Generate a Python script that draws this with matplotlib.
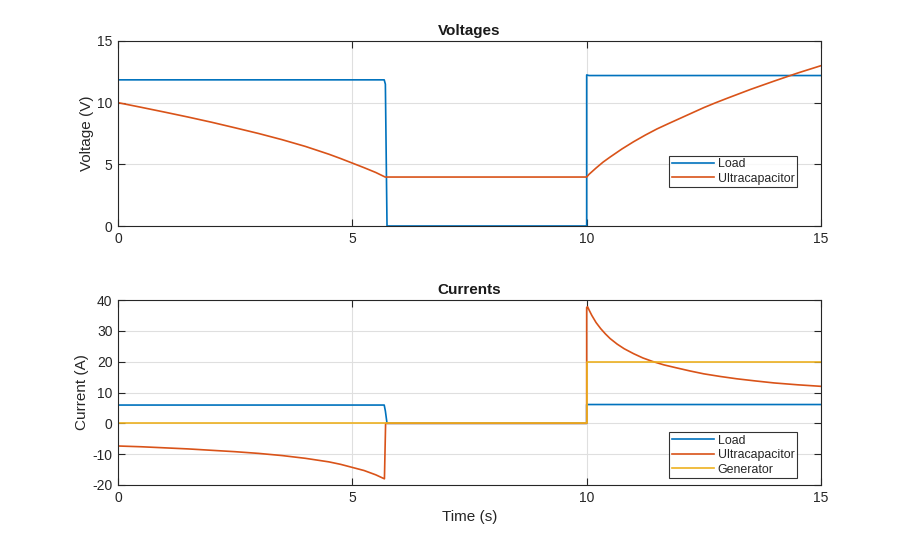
import matplotlib
matplotlib.use("Agg")
import matplotlib.pyplot as plt

plt.rcParams['font.family'] = ['Liberation Sans', 'DejaVu Sans']
plt.rcParams['axes.unicode_minus'] = False

# ---------------- data ----------------
# Voltages
t_load_v = [0, 5.68, 5.705, 5.74, 10.0, 10.0, 10.05, 15]
v_load = [11.85, 11.85, 11.5, 0.0, 0.0, 12.25, 12.2, 12.2]

t_uc_v = [0, 0.5, 1.0, 1.5, 2.0, 2.5, 3.0, 3.5, 4.0, 4.5, 4.75, 5.0, 5.25, 5.5, 5.70,
          10.0, 10.05, 10.1, 10.2, 10.35, 10.5, 10.75, 11.0, 11.25, 11.5, 11.75,
          12.0, 12.25, 12.5, 12.75, 13.0, 13.5, 14.0, 14.5, 15]
v_uc = [10.0, 9.62, 9.23, 8.83, 8.41, 7.96, 7.5, 7.0, 6.45, 5.82, 5.47, 5.1, 4.73, 4.34, 3.97,
        3.97, 4.19, 4.36, 4.7, 5.18, 5.59, 6.24, 6.83, 7.37, 7.87, 8.31,
        8.74, 9.17, 9.6, 9.99, 10.36, 11.08, 11.75, 12.4, 13.0]

# Currents
t_load_i = [0, 5.68, 5.705, 5.74, 10.0, 10.0, 15]
i_load = [5.93, 5.93, 4.0, 0.0, 0.0, 6.1, 6.1]

t_uc_i = [0, 0.5, 1.0, 1.5, 2.0, 2.5, 3.0, 3.5, 4.0, 4.5, 4.75, 5.0, 5.25, 5.5, 5.685, 5.71,
          10.0, 10.0, 10.02, 10.05, 10.11, 10.2, 10.3, 10.4, 10.5, 10.65, 10.8, 11.0,
          11.2, 11.4, 11.65, 11.9, 12.2, 12.5, 12.85, 13.2, 13.6, 14.0, 14.5, 15]
i_uc = [-7.35, -7.6, -7.95, -8.3, -8.75, -9.2, -9.75, -10.45, -11.35, -12.5, -13.3, -14.3, -15.3, -16.7, -18.0, 0.0,
        0.0, 37.6, 37.8, 36.8, 35.0, 32.7, 30.7, 29.0, 27.5, 25.7, 24.2, 22.6,
        21.2, 20.1, 18.95, 18.05, 17.0, 16.05, 15.2, 14.45, 13.75, 13.1, 12.5, 12.0]

t_gen_i = [0, 10.0, 10.0, 15]
i_gen = [0.0, 0.0, 20.0, 20.0]

x_ticks = [0, 5, 10, 15]
v_ticks = [0, 5, 10, 15]
i_ticks = [-20, -10, 0, 10, 20, 30, 40]

C_BLUE = '#0072BD'
C_ORANGE = '#D95319'
C_YELLOW = '#EDB120'
AX_COL = '#262626'

fig = plt.figure(figsize=(9.08, 5.46), dpi=100)
ax1 = fig.add_axes([118/908, 1-226/546, 703/908, 185/546])
ax2 = fig.add_axes([118/908, 1-485/546, 703/908, 185/546])

def style(ax):
    ax.set_xlim(0, 15)
    ax.set_xticks(x_ticks)
    ax.grid(True, color='#dfdfdf', linewidth=0.8)
    ax.set_axisbelow(True)
    ax.tick_params(direction='in', length=5, width=0.8, top=True, right=True,
                   colors=AX_COL, labelsize=10, pad=4)
    for s in ax.spines.values():
        s.set_color(AX_COL)
        s.set_linewidth(0.8)

LW = 1.2
ax1.plot(t_load_v, v_load, color=C_BLUE, lw=LW, label='Load')
ax1.plot(t_uc_v, v_uc, color=C_ORANGE, lw=LW, label='Ultracapacitor')
style(ax1)
ax1.set_ylim(0, 15)
ax1.set_yticks(v_ticks)
ax1.set_title('Voltages', fontsize=11, fontweight='bold', color='#1a1a1a', pad=4)
ax1.set_ylabel('Voltage (V)', fontsize=11, color=AX_COL, labelpad=2)

ax2.plot(t_load_i, i_load, color=C_BLUE, lw=LW, label='Load')
ax2.plot(t_uc_i, i_uc, color=C_ORANGE, lw=LW, label='Ultracapacitor')
ax2.plot(t_gen_i, i_gen, color=C_YELLOW, lw=LW, label='Generator')
style(ax2)
ax2.set_ylim(-20, 40)
ax2.set_yticks(i_ticks)
ax2.set_title('Currents', fontsize=11, fontweight='bold', color='#1a1a1a', pad=4)
ax2.set_ylabel('Current (A)', fontsize=11, color=AX_COL, labelpad=2)
ax2.set_xlabel('Time (s)', fontsize=11, color=AX_COL, labelpad=4)

leg_kw = dict(loc='lower right', fontsize=8.9, frameon=True, fancybox=False,
              borderaxespad=0, borderpad=0.2, labelspacing=0.2,
              handlelength=3.4, handletextpad=0.3)
l1 = ax1.legend(bbox_to_anchor=((797-118)/703, (226-187)/185), **leg_kw)
l2 = ax2.legend(bbox_to_anchor=((797-118)/703, (485-478)/185), **leg_kw)
for l in (l1, l2):
    l.get_frame().set_edgecolor('#000000')
    l.get_frame().set_linewidth(0.8)
    for txt in l.get_texts():
        txt.set_color(AX_COL)

fig.savefig('out.png', dpi=100)
